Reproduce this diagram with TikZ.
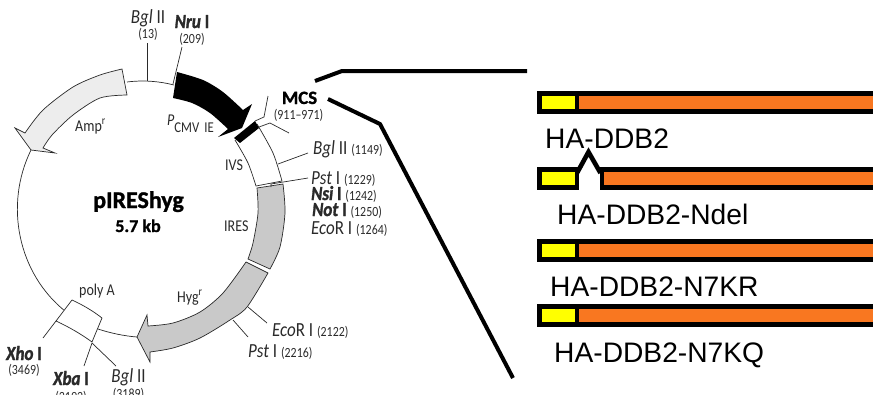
\documentclass[tikz,border=0pt]{standalone}
\usepackage{fontspec}
\usetikzlibrary{calc}
\newfontfamily\mapfont[FakeStretch=0.85,BoldFeatures={FakeBold=1.2},BoldItalicFeatures={FakeBold=1.5}]{Carlito}
\newfontfamily\titlefont[BoldFeatures={FakeBold=1.2}]{Carlito}
\newfontfamily\barfont{Liberation Sans}
\definecolor{mapInk}{HTML}{2A2A2A}
\definecolor{ampGrey}{HTML}{EDEDED}
\definecolor{hygGrey}{HTML}{C9C9C9}
\definecolor{barOrange}{HTML}{F97720}
\definecolor{barYellow}{HTML}{FFFF00}
\newcommand{\sitesize}{\fontsize{20}{22}\selectfont}
\newcommand{\numsize}{\fontsize{14}{16}\selectfont}

\begin{document}
\begin{tikzpicture}[
  x=1pt,y=-1pt,
  backbone/.style={draw=mapInk,line width=.7pt},
  sitename/.style={font=\mapfont\sitesize,text=mapInk,anchor=base west,inner sep=0pt},
  sitenum/.style={font=\mapfont\numsize,text=mapInk,anchor=base,inner sep=0pt},
  feature/.style={font=\mapfont\fontsize{16.5}{18}\selectfont,text=mapInk,anchor=base west,inner sep=0pt},
  title/.style={font=\titlefont\bfseries\fontsize{24}{26}\selectfont,text=black,anchor=base,inner sep=0pt},
  zoomline/.style={draw=black,line width=4pt,line join=miter},
  hbar/.style={draw=black,line width=4.6pt},
  barname/.style={font=\barfont\fontsize{28.2}{30}\selectfont,text=black,anchor=base west,inner sep=0pt}
]
  \useasboundingbox (0,0) rectangle (873,394);
  \clip (0,0) rectangle (873,394);

  % plasmid backbone
  \draw[backbone] (31,150) arc[start angle=207.5,end angle=127,x radius=120.5,y radius=128];
  \draw[backbone] (98,329) .. controls (110,333) and (124,336) .. (137,337);
  \draw[backbone] (127,82) .. controls (143,80) and (158,81) .. (174,85);

  % features
  \draw[backbone,fill=ampGrey] plot[smooth] coordinates {(122,69) (100,75) (73,87) (43,110) (25,133)}
    -- (15,128) -- (31,150) -- (55,153) -- (43,148)
    -- plot[smooth] coordinates {(43,148) (52,135) (73,115) (100,98) (127,95)} -- cycle;
  \fill[black] plot[smooth] coordinates {(177,72) (203,80) (223,92) (243,110)}
    -- (252,104) -- (242,128) -- (218,137) -- (228,129)
    -- plot[smooth] coordinates {(228,129) (210,113) (192,103) (173,98)} -- cycle;
  \draw[backbone] plot[smooth] coordinates {(235,140) (248,163) (256,186)}
    -- (282,181) -- plot[smooth] coordinates {(282,181) (273,153) (257,124)};
  \fill[black] (234,138) -- (255,121) -- (259,128) -- (240,143) -- cycle;
  \draw[backbone,fill=hygGrey] plot[smooth] coordinates {(257,188) (258,213) (253,243) (248,259)}
    -- (270,269) -- plot[smooth] coordinates {(270,269) (280,247) (285,213) (283,184)} -- cycle;
  \draw[backbone,fill=hygGrey] plot[smooth] coordinates {(246,262) (223,293) (200,312) (173,323) (148,326)}
    -- (147,315) -- (137,337) -- (150,362) -- (150,352)
    -- plot[smooth] coordinates {(150,352) (173,348) (200,338) (230,320) (247,307) (268,273)} -- cycle;
  \draw[backbone,fill=white] (72,300) .. controls (83,305) and (93,311) .. (102,318)
    -- (92,342) .. controls (81,334) and (69,327) .. (56,321) -- cycle;

  % site ticks
  \draw[backbone] (147,43) -- (147,81);
  \draw[backbone] (182,47) -- (173,84);
  \draw[backbone] (268,96) -- (264,117) -- (255,121);
  \draw[backbone] (289,133) -- (270,123) -- (259,127);
  \draw[backbone] (308,153) -- (278,164);
  \draw[backbone] (308,178) -- (271,184) -- (271,187);
  \draw[backbone] (248,307) -- (267,323);
  \draw[backbone] (233,320) -- (248,337);
  \draw[backbone] (56,321) -- (43,338);
  \draw[backbone] (92,343) -- (84,366);
  \draw[backbone] (92,343) -- (116,366);

  % labels round the map
  \node[sitename,anchor=base] (bglTop) at (148,23) {\textit{Bgl} II};
  \node[sitenum] (bglTopNum) at (148,38) {(13)};
  \node[sitename,anchor=base] (nru) at (192,28) {\textbf{\textit{Nru} I}};
  \node[sitenum] (nruNum) at (192,43) {(209)};
  \node[title,font=\titlefont\bfseries\fontsize{18.8}{20}\selectfont] (mcs) at (299.5,104) {MCS};
  \node[sitenum] (mcsNum) at (298.5,119) {(911–971)};
  \node[sitename] (bglB) at (313,154) {\textit{Bgl} II {\numsize (1149)}};
  \node[sitename] (pstA) at (311,184) {\textit{Pst} I {\numsize (1229)}};
  \node[sitename] (nsi) at (311,200) {\textbf{\textit{Nsi} I} {\numsize (1242)}};
  \node[sitename] (nott) at (312,216) {\textbf{\textit{Not} I} {\numsize (1250)}};
  \node[sitename] (ecoA) at (311,234) {\textit{Eco}R I {\numsize (1264)}};
  \node[sitename] (ecoB) at (272,336) {\textit{Eco}R I {\numsize (2122)}};
  \node[sitename] (pstB) at (248,357) {\textit{Pst} I {\numsize (2216)}};
  \node[sitename,anchor=base] (xho) at (24,360) {\textbf{\textit{Xho} I}};
  \node[sitenum] (xhoNum) at (24,374) {(3469)};
  \node[sitename,anchor=base] (xba) at (71,385) {\textbf{\textit{Xba} I}};
  \node[sitenum] (xbaNum) at (71,401) {(3192)};
  \node[sitename,anchor=base] (bglC) at (128.5,382) {\textit{Bgl} II};
  \node[sitenum] (bglCNum) at (128.5,398) {(3189)};

  \node[feature] (amp) at (75,131) {Amp\textsuperscript{r}};
  \node[feature] (pcmv) at (167,125) {\textit{P}\raisebox{-7pt}{\fontsize{15}{16}\selectfont CMV\,\,IE}};
  \node[feature] (ivs) at (225,170) {IVS};
  \node[feature] (ires) at (224,231) {IRES};
  \node[feature] (polya) at (79,295) {poly A};
  \node[feature] (hyg) at (177,302) {Hyg\textsuperscript{r}};
  \node[title] (pname) at (138.5,208) {pIREShyg};
  \node[title,font=\titlefont\bfseries\fontsize{18}{20}\selectfont] (psize) at (138,232) {5.7 kb};

  % zoom lines
  \draw[zoomline] (315,81) -- (342,71) -- (527,71);
  \draw[zoomline] (328,99) -- (380,124) -- (513,378);

  % constructs
  \foreach \ytop in {93.3,241.3,306.3}{
    \draw[hbar,fill=barOrange] (577,\ytop) rectangle (890,\ytop+18.4);
    \draw[hbar,fill=barYellow] (539.3,\ytop) rectangle (577,\ytop+18.4);
  }
  \draw[hbar,fill=barOrange] (602,169.3) rectangle (890,187.7);
  \draw[hbar,fill=barYellow] (539.3,169.3) rectangle (577,187.7);
  \draw[hbar,line join=miter] (577,173) -- (588.5,152) -- (600.5,173);

  \node[barname] (nameA) at (545,148) {HA-DDB2};
  \node[barname] (nameB) at (557,224) {HA-DDB2-Ndel};
  \node[barname] (nameC) at (550,296) {HA-DDB2-N7KR};
  \node[barname] (nameD) at (554,362) {HA-DDB2-N7KQ};
\end{tikzpicture}
\end{document}
